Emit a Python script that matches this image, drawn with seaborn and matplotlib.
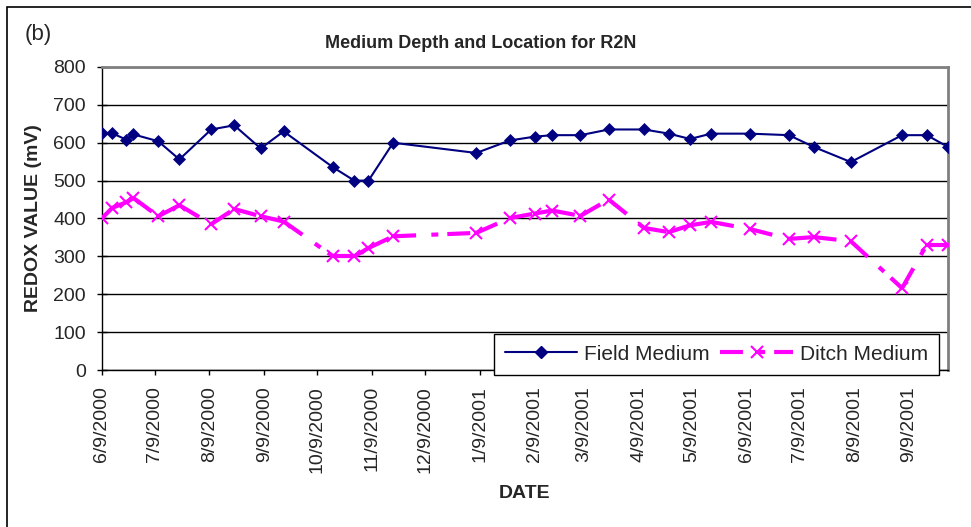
import matplotlib
matplotlib.use("Agg")
import matplotlib.pyplot as plt
import matplotlib.dates as mdates
from matplotlib.collections import LineCollection
from matplotlib.lines import Line2D
from matplotlib.patches import Rectangle
from matplotlib.ticker import FuncFormatter
import pandas as pd
import seaborn as sns

# sampling dates
dates = ["2000-06-09", "2000-06-15", "2000-06-23", "2000-06-27", "2000-07-11",
         "2000-07-23", "2000-08-10", "2000-08-23", "2000-09-07", "2000-09-20",
         "2000-10-18", "2000-10-30", "2000-11-07", "2000-11-21", "2001-01-07",
         "2001-01-26", "2001-02-09", "2001-02-19", "2001-03-07", "2001-03-23",
         "2001-04-12", "2001-04-26", "2001-05-08", "2001-05-20", "2001-06-11",
         "2001-07-03", "2001-07-17", "2001-08-07", "2001-09-05", "2001-09-19",
         "2001-10-01"]

field_medium = [625, 625, 608, 622, 604, 556, 635, 646, 585, 630,
                535, 500, 500, 600, 573, 606, 616, 620, 620, 635,
                635, 624, 610, 624, 624, 620, 589, 549, 620, 620, 589]

ditch_medium = [400, 428, 443, 454, 406, 435, 385, 425, 406, 392,
                300, 300, 322, 353, 362, 401, 413, 421, 407, 450,
                375, 364, 382, 391, 372, 346, 351, 340, 216, 331, 331]

series_names = ["Field Medium", "Ditch Medium"]

sns.set_style("white")
plt.rcParams['font.family'] = ['Liberation Sans', 'DejaVu Sans']
plt.rcParams['lines.scale_dashes'] = False

df = pd.DataFrame({'date': pd.to_datetime(dates),
                   'field': field_medium,
                   'ditch': ditch_medium})

navy = '#000080'
magenta = '#FF00FF'
ditch_dash = (0, (16.5, 11, 5, 6.5))

fig = plt.figure(figsize=(9.71, 5.27), dpi=100)
ax = fig.add_axes([0.1047, 0.2979, 0.8716, 0.575])

sns.lineplot(data=df, x='date', y='field', ax=ax, color=navy, lw=1.5,
             marker='D', markersize=6.5, markeredgecolor=navy,
             markeredgewidth=0.5, zorder=4)
sns.lineplot(data=df, x='date', y='ditch', ax=ax, color=magenta,
             linestyle='none', marker='x', markersize=8,
             markeredgecolor=magenta, markeredgewidth=1.5, zorder=4)

# Excel restarts the dash pattern at every point -> one segment per pair
xs = mdates.date2num(df['date'])
pts = list(zip(xs, df['ditch']))
segs = [[pts[i], pts[i + 1]] for i in range(len(pts) - 1)]
ax.add_collection(LineCollection(segs, colors=magenta, linewidths=3,
                                 linestyles=[ditch_dash], zorder=3))

ax.set_ylim(0, 800)
ax.set_yticks(range(0, 801, 100))
ax.set_xlim(df['date'].iloc[0], df['date'].iloc[-1])
ax.xaxis.set_major_locator(mdates.MonthLocator(bymonthday=9))


def fmt_date(v, pos):
    d = mdates.num2date(v)
    return f"{d.month}/{d.day}/{d.year}"


ax.xaxis.set_major_formatter(FuncFormatter(fmt_date))
ax.tick_params(axis='x', rotation=90, labelsize=14, direction='out',
               length=3.6, width=1, color='black', pad=8, bottom=True)
ax.tick_params(axis='y', labelsize=14, direction='inout', length=7.2,
               width=1, color='black', pad=7.7, left=True)

ax.yaxis.grid(True, color='black', lw=1)
ax.xaxis.grid(False)
ax.set_axisbelow(True)

for s in ['left', 'bottom']:
    ax.spines[s].set_color('black')
    ax.spines[s].set_linewidth(1)
for s in ['top', 'right']:
    ax.spines[s].set_color('#808080')
    ax.spines[s].set_linewidth(2)

ax.set_ylabel('REDOX VALUE (mV)', fontsize=14, fontweight='bold')
ax.yaxis.set_label_coords(-0.07, 0.5)
ax.set_xlabel('DATE', fontsize=14, fontweight='bold')
ax.xaxis.set_label_coords(0.5, -0.38)

fig.text(0.4954, 1 - 48 / 527, 'Medium Depth and Location for R2N',
         fontsize=13, fontweight='bold', ha='center', va='baseline')
fig.text(25 / 971, 1 - 40 / 527, '(b)', fontsize=16, va='baseline')

handles = [Line2D([], [], color=navy, lw=1.5, marker='D', markersize=6.5,
                  markeredgecolor=navy),
           Line2D([], [], color=magenta, lw=3, linestyle=ditch_dash,
                  marker='x', markersize=8, markeredgewidth=1.5)]
leg = fig.legend(handles, series_names, loc='lower right',
                 bbox_to_anchor=(939 / 971, 1 - 375 / 527), ncol=2,
                 fontsize=15, frameon=True, fancybox=False,
                 edgecolor='black', framealpha=1, handlelength=3.46,
                 handletextpad=0.34, columnspacing=0.5, borderpad=0.54,
                 borderaxespad=0, numpoints=1)
leg.get_frame().set_linewidth(1)

fig.add_artist(Rectangle((7 / 971, -0.1), 1.1, 1 - 7 / 527 + 0.1,
                         transform=fig.transFigure, fill=False,
                         edgecolor='black', lw=1.2))

fig.savefig('out.png', dpi=100)
